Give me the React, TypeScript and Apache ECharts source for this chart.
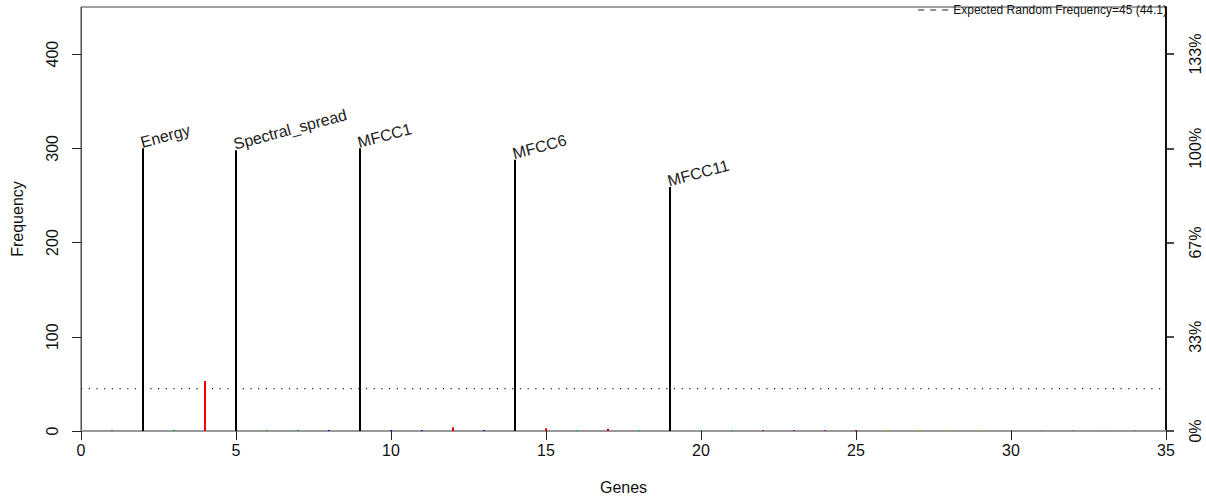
import React, { useEffect, useRef } from "react";
import * as echarts from "echarts";

// Gene index on the x axis
const genes = [
  1, 2, 3, 4, 5, 6, 7, 8, 9, 10, 11, 12, 13, 14, 15, 16, 17,
  18, 19, 20, 21, 22, 23, 24, 25, 26, 27, 28, 29, 30, 31, 32, 33, 34,
];

// How often each gene was selected
const frequency = [
  1, 300, 1, 53, 298, 1, 1, 1, 300, 1, 1, 4, 1, 288, 3, 1, 2,
  1, 259, 1, 1, 1, 1, 1, 1, 1, 1, 1, 1, 1, 1, 1, 1, 1,
];

// Rank-group colour of each gene
const geneColors = [
  "#00a000", "#000000", "#00a000", "#ff0000", "#000000", "#00a000", "#00a000",
  "#1010c0", "#000000", "#1010c0", "#1010c0", "#e00000", "#1010c0", "#000000",
  "#e00000", "#10a0a0", "#c00000", "#10a0a0", "#000000", "#10a0a0", "#10a0a0",
  "#b000b0", "#b000b0", "#b000b0", "#b000b0", "#b0b000", "#b0b000", "#b0b000",
  "#b0b000", "#808080", "#808080", "#808080", "#808080", "#808080",
];

// Names written above the most frequent genes
const topGeneIds = [2, 5, 9, 14, 19];
const topGeneNames = ["Energy", "Spectral_spread", "MFCC1", "MFCC6", "MFCC11"];

const frequencyTicks = [0, 100, 200, 300, 400];
const xTicks = [0, 5, 10, 15, 20, 25, 30, 35];
const expectedFrequency = 45;
const expectedLabel = "Expected Random Frequency=45 (44.1)";
const allSelected = 300;

const FONT = "'Liberation Sans', Arial, sans-serif";

export default function App() {
  const ref = useRef<HTMLDivElement>(null);

  useEffect(() => {
    if (!ref.current) return;
    const chart = echarts.init(ref.current, null, { renderer: "svg" });

    const stems = genes.map((g, i) => {
      const k = topGeneIds.indexOf(g);
      return {
        value: [g, frequency[i]],
        itemStyle: { color: geneColors[i] },
        label:
          k >= 0
            ? {
                show: true,
                formatter: topGeneNames[k],
                position: [1, 2],
                rotate: 15,
                align: "left",
                verticalAlign: "bottom",
                fontSize: 16,
                fontFamily: FONT,
                color: "#222",
              }
            : { show: false },
      };
    });

    const yAxisBase = {
      type: "value",
      min: 0,
      max: 450,
      interval: 100,
      splitLine: { show: false },
    };

    chart.setOption({
      animation: false,
      backgroundColor: "#ffffff",
      textStyle: { fontFamily: FONT },
      grid: {
        left: 81,
        right: 40,
        top: 7,
        bottom: 67,
        outerBoundsMode: "none",
        containLabel: false,
        show: true,
        borderColor: "#444",
        borderWidth: 1,
        backgroundColor: "transparent",
      },
      legend: {
        right: 39,
        top: 4,
        padding: 0,
        itemWidth: 30,
        itemHeight: 2,
        itemGap: 4,
        icon: "path://M0,0h6v1h-6z M12,0h6v1h-6z M24,0h6v1h-6z",
        textStyle: { fontSize: 12, color: "#111", fontFamily: FONT },
        data: [{ name: expectedLabel, itemStyle: { color: "#222" } }],
      },
      xAxis: {
        type: "value",
        min: xTicks[0],
        max: xTicks[xTicks.length - 1],
        interval: 5,
        name: "Genes",
        nameLocation: "middle",
        nameGap: 48,
        nameTextStyle: { fontSize: 16, color: "#111", fontFamily: FONT },
        axisLine: { show: true, onZero: false, lineStyle: { color: "#999", width: 2 } },
        axisTick: { show: true, length: 9, lineStyle: { color: "#222", width: 1 } },
        axisLabel: { fontSize: 16, color: "#111", margin: 11, fontFamily: FONT },
        splitLine: { show: false },
      },
      yAxis: [
        {
          ...yAxisBase,
          position: "left",
          name: "Frequency",
          nameLocation: "middle",
          nameGap: 56,
          nameRotate: 90,
          nameTextStyle: { fontSize: 16, color: "#111", fontFamily: FONT },
          axisLine: { show: true, lineStyle: { color: "#555", width: 1 } },
          axisTick: {
            show: true,
            length: 9,
            customValues: frequencyTicks,
            lineStyle: { color: "#222", width: 1 },
          },
          axisLabel: {
            rotate: 90,
            align: "center",
            verticalAlign: "bottom",
            margin: 21,
            fontSize: 16,
            color: "#111",
            fontFamily: FONT,
            customValues: frequencyTicks,
          },
        },
        {
          ...yAxisBase,
          position: "right",
          axisLine: { show: true, lineStyle: { color: "#111", width: 2 } },
          axisTick: {
            show: true,
            length: 8,
            customValues: frequencyTicks,
            lineStyle: { color: "#111", width: 1.5 },
          },
          axisLabel: {
            rotate: 90,
            align: "center",
            verticalAlign: "top",
            margin: 21,
            fontSize: 16,
            color: "#111",
            fontFamily: FONT,
            customValues: frequencyTicks,
            formatter: (v: number) => `${Math.round((v / allSelected) * 100)}%`,
          },
        },
      ],
      series: [
        {
          name: "frequency",
          type: "bar",
          barWidth: 2,
          yAxisIndex: 0,
          data: stems,
          z: 5,
        },
        {
          name: expectedLabel,
          type: "line",
          yAxisIndex: 0,
          symbol: "none",
          silent: true,
          data: [
            [xTicks[0], expectedFrequency],
            [xTicks[xTicks.length - 1], expectedFrequency],
          ],
          lineStyle: { color: "#222", width: 1.3, type: [1.2, 6.5] },
          itemStyle: { color: "#222" },
          z: 3,
        },
      ],
    });

    return () => chart.dispose();
  }, []);

  return (
    <div
      ref={ref}
      style={{ position: "absolute", left: 0, top: 0, width: 1206, height: 498 }}
    />
  );
}
